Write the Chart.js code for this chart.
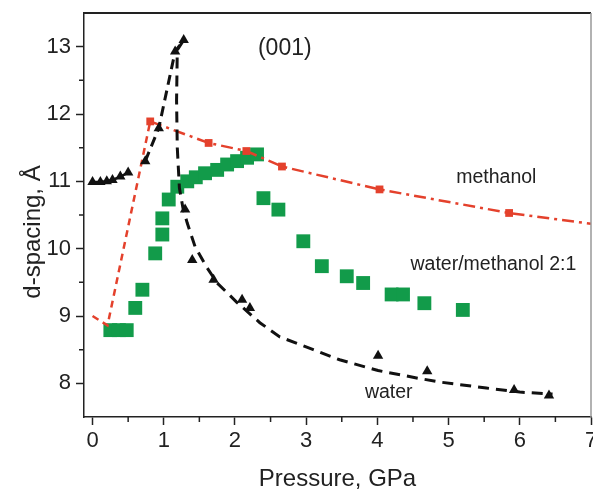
<!DOCTYPE html>
<html>
<head>
<meta charset="UTF-8">
<title>d-spacing vs pressure</title>
<script src="https://cdn.jsdelivr.net/npm/chart.js@4/dist/chart.umd.min.js"></script>
<style>
  html, body { margin: 0; padding: 0; background: #fff; }
  canvas { display: block; }
</style>
</head>
<body>
<canvas id="c" width="593" height="495"></canvas>
<script>
// water: triangles (measured points)
const waterP = [0, 0.11, 0.2, 0.28, 0.39, 0.5, 0.74, 0.93, 1.16, 1.28, 1.30, 1.40, 1.70, 2.10, 2.21, 4.01, 4.70, 5.92, 6.41];
const waterD = [10.99, 10.99, 11.0, 11.02, 11.07, 11.13, 11.30, 11.79, 12.93, 13.1, 10.58, 9.83, 9.54, 9.24, 9.12, 8.41, 8.18, 7.90, 7.82];
// water: guide lines
const waterLowP = [0, 0.11, 0.2, 0.28, 0.39, 0.5];
const waterLowD = [10.99, 10.99, 11.0, 11.02, 11.07, 11.13];
const waterRiseP = [0.74, 0.93, 1.16, 1.28];
const waterRiseD = [11.30, 11.79, 12.93, 13.1];
const waterFallP = [1.27, 1.19, 1.18, 1.19, 1.22, 1.27, 1.33, 1.44, 1.60, 1.75, 2.03, 2.35, 2.63, 3.10, 3.47, 4.01, 4.55, 4.87, 5.53, 6.0, 6.46];
const waterFallD = [13.08, 12.95, 12.2, 11.5, 10.9, 10.6, 10.38, 10.03, 9.73, 9.49, 9.20, 8.90, 8.69, 8.50, 8.35, 8.19, 8.08, 8.02, 7.93, 7.87, 7.84];

// methanol: small red squares + guide lines
const methP = [0.81, 1.63, 2.16, 2.66, 4.03, 5.85];
const methD = [11.89, 11.57, 11.45, 11.22, 10.88, 10.53];
const methRiseP = [0, 0.21, 0.81];
const methRiseD = [9.0, 8.86, 11.89];
const methFitP = [0.81, 1.63, 2.16, 2.66, 4.03, 5.85, 7.0];
const methFitD = [11.89, 11.57, 11.45, 11.22, 10.88, 10.53, 10.37];

// water/methanol 2:1: green squares
const mixP = [0.25, 0.37, 0.48, 0.60, 0.70, 0.88, 0.98, 0.98, 1.07, 1.19, 1.33, 1.45, 1.58, 1.75, 1.89, 2.03, 2.17, 2.31, 2.40, 2.61, 2.96, 3.22, 3.57, 3.80, 4.20, 4.36, 4.66, 5.20];
const mixD = [8.79, 8.79, 8.79, 9.12, 9.39, 9.93, 10.21, 10.45, 10.73, 10.92, 11.0, 11.06, 11.12, 11.17, 11.25, 11.30, 11.35, 11.40, 10.75, 10.58, 10.11, 9.74, 9.59, 9.49, 9.32, 9.32, 9.19, 9.09];

const xTicks = [0, 1, 2, 3, 4, 5, 6, 7];
const yTicks = [8, 9, 10, 11, 12, 13];

// text labels inside the plot, placed in data units
const notes = [
  { text: '(001)', x: 2.70, y: 12.97, size: 23 },
  { text: 'methanol', x: 5.67, y: 11.06, size: 19.5 },
  { text: 'water/methanol 2:1', x: 5.63, y: 9.76, size: 19.5 },
  { text: 'water', x: 4.16, y: 7.86, size: 19.5 }
];

const pts = (xs, ys) => xs.map((x, i) => ({ x: x, y: ys[i] }));

const INK = '#222';
const RED = '#e4412c';
const GREEN = '#129b4a';
const FONT = "'Liberation Sans', Arial, sans-serif";

// minor ticks, top/right frame, y title and the in-plot notes
const extras = {
  id: 'extras',
  afterDraw(chart) {
    const { ctx, chartArea: a, scales: { x, y } } = chart;
    ctx.save();
    ctx.strokeStyle = INK;
    ctx.lineWidth = 1.5;
    ctx.beginPath();
    for (let v = 0.5; v < 7; v += 1) {
      const px = x.getPixelForValue(v);
      ctx.moveTo(px, a.bottom); ctx.lineTo(px, a.bottom + 5);
    }
    for (let v = 8.5; v < 13.5; v += 1) {
      const py = y.getPixelForValue(v);
      ctx.moveTo(a.left, py); ctx.lineTo(a.left - 5, py);
    }
    ctx.stroke();

    ctx.strokeStyle = INK;
    ctx.lineWidth = 2;
    ctx.beginPath();
    ctx.moveTo(a.left, a.top); ctx.lineTo(a.right, a.top);
    ctx.stroke();
    ctx.strokeStyle = '#999';
    ctx.lineWidth = 1.5;
    ctx.beginPath();
    ctx.moveTo(a.right, a.top); ctx.lineTo(a.right, a.bottom);
    ctx.stroke();

    ctx.fillStyle = INK;
    ctx.textAlign = 'center';
    ctx.textBaseline = 'middle';
    notes.forEach(n => {
      ctx.font = n.size + 'px ' + FONT;
      ctx.fillText(n.text, x.getPixelForValue(n.x), y.getPixelForValue(n.y));
    });

    ctx.translate(33, 232);
    ctx.rotate(-Math.PI / 2);
    ctx.font = '24px ' + FONT;
    ctx.fillText('d-spacing, Å', 0, 0);
    ctx.restore();
  }
};

new Chart(document.getElementById('c'), {
  type: 'scatter',
  data: {
    datasets: [
      { data: pts(waterP, waterD), showLine: false, pointStyle: 'triangle', pointRadius: 6,
        backgroundColor: '#111', borderColor: '#111', borderWidth: 0 },
      { data: pts(waterLowP, waterLowD), showLine: true, pointRadius: 0, borderColor: '#111', borderWidth: 2.5 },
      { data: pts(waterRiseP, waterRiseD), showLine: true, pointRadius: 0, borderColor: '#111', borderWidth: 3, borderDash: [10, 6] },
      { data: pts(waterFallP, waterFallD), showLine: true, pointRadius: 0, borderColor: '#111', borderWidth: 3, borderDash: [11, 7] },
      { data: pts(methP, methD), showLine: false, pointStyle: 'rect', pointRadius: 5.5,
        backgroundColor: RED, borderColor: RED, borderWidth: 0 },
      { data: pts(methRiseP, methRiseD), showLine: true, pointRadius: 0, borderColor: RED, borderWidth: 2.5, borderDash: [7, 5] },
      { data: pts(methFitP, methFitD), showLine: true, pointRadius: 0, borderColor: RED, borderWidth: 2.5, borderDash: [12, 5, 3, 5] },
      { data: pts(mixP, mixD), showLine: false, pointStyle: 'rect', pointRadius: 9.8,
        backgroundColor: GREEN, borderColor: GREEN, borderWidth: 0 }
    ]
  },
  options: {
    responsive: false,
    animation: false,
    devicePixelRatio: 1,
    layout: { autoPadding: false, padding: { top: 13, right: 2, left: 0, bottom: 0 } },
    plugins: { legend: { display: false }, tooltip: { enabled: false } },
    scales: {
      x: {
        type: 'linear', min: -0.12, max: 7,
        afterFit: s => { s.height = 78; s.paddingLeft = 0; s.paddingRight = 0; },
        afterBuildTicks: s => { s.ticks = xTicks.map(v => ({ value: v })); },
        ticks: { color: INK, font: { family: FONT, size: 22 }, padding: 3, maxRotation: 0 },
        grid: { drawOnChartArea: false, tickLength: 8, tickWidth: 1.5, color: INK },
        border: { display: true, color: INK, width: 1.5 },
        title: { display: true, text: 'Pressure, GPa', color: INK, font: { family: FONT, size: 24 }, padding: { top: 0, bottom: 1 } }
      },
      y: {
        type: 'linear', min: 7.5, max: 13.5,
        afterFit: s => { s.width = 84; s.paddingTop = 0; s.paddingBottom = 0; },
        afterBuildTicks: s => { s.ticks = yTicks.map(v => ({ value: v })); },
        ticks: { color: INK, font: { family: FONT, size: 22 }, padding: 5 },
        grid: { drawOnChartArea: false, tickLength: 8, tickWidth: 1.5, color: INK },
        border: { display: true, color: INK, width: 1.5 }
      }
    }
  },
  plugins: [extras]
});
</script>
</body>
</html>
